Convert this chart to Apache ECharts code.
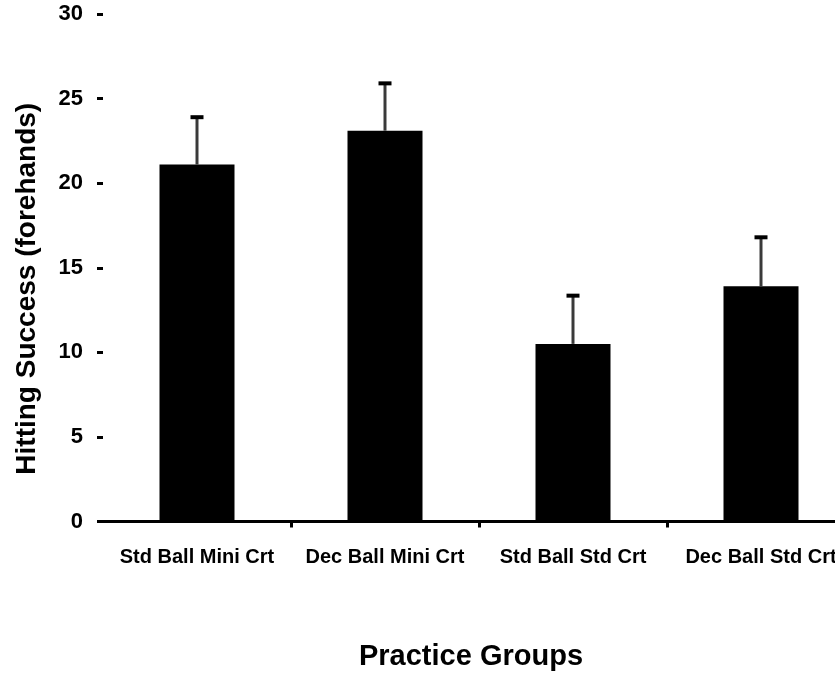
<!DOCTYPE html>
<html>
<head>
<meta charset="utf-8">
<script src="https://cdn.jsdelivr.net/npm/echarts@6/dist/echarts.min.js"></script>
<style>
html,body{margin:0;padding:0;background:#fff;}
#chart{width:835px;height:679px;}
</style>
</head>
<body>
<div id="chart"></div>
<script>
const categories = ['Std Ball Mini Crt', 'Dec Ball Mini Crt', 'Std Ball Std Crt', 'Dec Ball Std Crt'];
const means = [21.1, 23.1, 10.5, 13.9];
const errors = [2.8, 2.8, 2.85, 2.9];
const yMin = 0, yMax = 30, yStep = 5;
const xTitle = 'Practice Groups';
const yTitle = 'Hitting Success (forehands)';

const FONT = '"Liberation Sans", Arial, sans-serif';
const chart = echarts.init(document.getElementById('chart'));

chart.setOption({
  backgroundColor: '#fff',
  animation: false,
  grid: { left: 103, right: -20, top: 14, bottom: 157.5, containLabel: false, outerBoundsMode: 'none' },
  xAxis: {
    type: 'category',
    data: categories,
    name: xTitle,
    nameLocation: 'middle',
    nameGap: 121,
    nameTextStyle: { fontFamily: FONT, fontWeight: 'bold', fontSize: 29, color: '#000', padding: [0, 16, 0, 0] },
    axisLine: { lineStyle: { color: '#000', width: 3 } },
    axisTick: { show: true, length: 6, lineStyle: { color: '#000', width: 3 },
      interval: function (idx) { return idx !== 0; } },
    axisLabel: { interval: 0, margin: 26, fontFamily: FONT, fontWeight: 'bold', fontSize: 20, color: '#000' },
    splitLine: { show: false }
  },
  yAxis: {
    type: 'value',
    min: yMin, max: yMax, interval: yStep,
    name: yTitle,
    nameLocation: 'middle',
    nameGap: 62,
    nameRotate: 90,
    nameTextStyle: { fontFamily: FONT, fontWeight: 'bold', fontSize: 28, color: '#000', padding: [0, 42, 0, 0] },
    axisLine: { show: false },
    axisTick: { show: true, length: 6, lineStyle: { color: '#000', width: 3 } },
    axisLabel: { margin: 20, fontFamily: FONT, fontWeight: 'bold', fontSize: 22, color: '#000' },
    splitLine: { show: false }
  },
  series: [
    {
      type: 'bar',
      data: means,
      barWidth: 75,
      itemStyle: { color: '#000' },
      z: 2
    },
    {
      type: 'custom',
      z: 3,
      data: means.map((m, i) => [i, m, m + errors[i]]),
      renderItem: function (params, api) {
        const base = api.coord([api.value(0), api.value(1)]);
        const top = api.coord([api.value(0), api.value(2)]);
        return {
          type: 'group',
          children: [
            { type: 'line', shape: { x1: base[0], y1: base[1], x2: top[0], y2: top[1] },
              style: { stroke: '#3a3a3a', lineWidth: 3 } },
            { type: 'rect', shape: { x: top[0] - 6.5, y: top[1] - 2, width: 13, height: 4 },
              style: { fill: '#000' } }
          ]
        };
      }
    }
  ]
});
</script>
</body>
</html>
